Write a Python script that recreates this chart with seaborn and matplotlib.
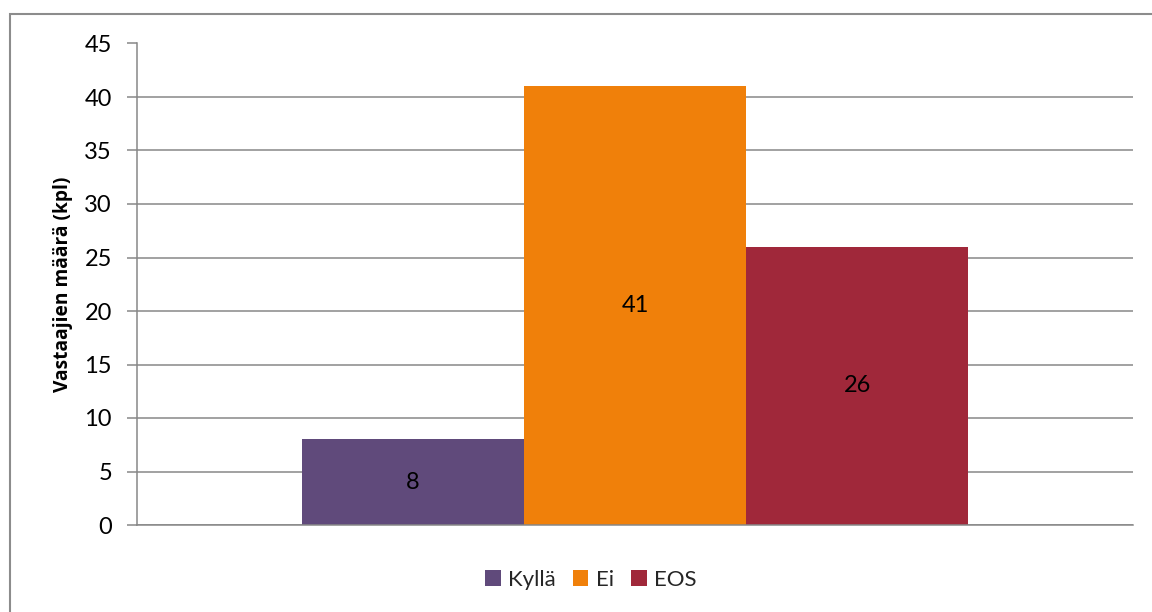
import matplotlib
matplotlib.use("Agg")
import matplotlib.pyplot as plt
import matplotlib.patches as mpatches
import seaborn as sns
import pandas as pd

# Survey answers and respondent counts
answers = ["Kyllä", "Ei", "EOS"]
counts = [8, 41, 26]
colors = ["#604A7B", "#F0800A", "#A0283A"]
y_ticks = [0, 5, 10, 15, 20, 25, 30, 35, 40, 45]
y_label = "Vastaajien määrä (kpl)"

df = pd.DataFrame({"group": [""] * len(answers), "vastaus": answers, "maara": counts})

sns.set_theme(style="white")
plt.rcParams["font.family"] = ["Lato", "DejaVu Sans"]

fig = plt.figure(figsize=(11.52, 6.12), dpi=100)
ax = fig.add_axes([137 / 1152, 87 / 612, 996 / 1152, 481.5 / 612])

sns.barplot(data=df, x="group", y="maara", hue="vastaus", hue_order=answers,
            palette=colors, width=0.669, dodge=True, saturation=1,
            edgecolor="none", linewidth=0, ax=ax, legend=True)

ax.set_xlim(-0.5, 0.5)
ax.set_ylim(0, 45)
ax.set_yticks(y_ticks)
ax.set_yticklabels([str(t) for t in y_ticks], fontsize=17, color="black")
ax.set_xticks([])
ax.set_xlabel("")
ax.set_ylabel(y_label, fontsize=13.8, fontweight="bold", color="black", labelpad=8,
              family=["Open Sans", "DejaVu Sans"])

ax.yaxis.grid(True, color="#878787", linewidth=1.1)
ax.set_axisbelow(True)
for side in ["top", "right"]:
    ax.spines[side].set_visible(False)
for side in ["left", "bottom"]:
    ax.spines[side].set_color("#878787")
    ax.spines[side].set_linewidth(1.1)
ax.tick_params(axis="y", which="major", left=True, length=7, width=1.1,
               color="#878787", pad=11)

# Values written in the middle of each bar
for container in ax.containers:
    ax.bar_label(container, label_type="center", fontsize=17, color="black")

handles, labels = ax.get_legend_handles_labels()
ax.legend_.remove()
fig.legend(handles, labels, loc="center", bbox_to_anchor=(591 / 1152, (612 - 580) / 612),
           ncol=3, frameon=False, fontsize=16, handlelength=0.7, handleheight=0.7,
           handletextpad=0.35, columnspacing=0.75)

# Chart area frame
fig.patches.append(mpatches.Rectangle((10 / 1152, -0.1), 1.2, (612 - 14) / 612 + 0.1,
                                      transform=fig.transFigure, fill=False,
                                      edgecolor="#8C8C8C", linewidth=1.5))

fig.savefig("out.png", dpi=100, facecolor="white")
